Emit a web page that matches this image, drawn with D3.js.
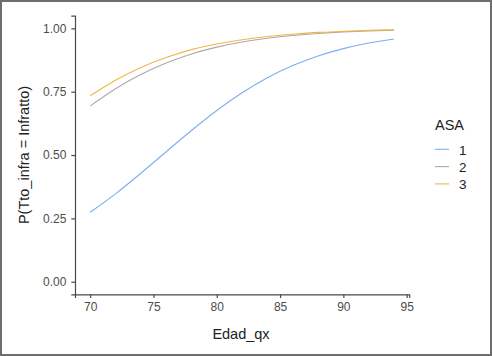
<!DOCTYPE html>
<html><head><meta charset="utf-8">
<script src="https://cdn.jsdelivr.net/npm/d3@7"></script>
<style>body{margin:0;background:#fff}svg{display:block}</style>
</head><body><svg id="c" width="492" height="356"></svg>
<script>
const ages = [70,72,74,76,78,80,82,84,86,88,90,92,94];
const asa1 = [0.274,0.347,0.428,0.513,0.597,0.676,0.746,0.805,0.853,0.891,0.920,0.942,0.958];
const asa2 = [0.694,0.762,0.818,0.863,0.899,0.926,0.946,0.961,0.972,0.980,0.986,0.990,0.993];
const asa3 = [0.734,0.795,0.846,0.885,0.916,0.938,0.955,0.968,0.977,0.984,0.988,0.992,0.994];
const groups = ["1","2","3"];
const seriesVals = [asa1, asa2, asa3];
const colors = ["#7eaef0","#aaaaaa","#f0b646"];
const xTicks = [70,75,80,85,90,95];
const yTicks = [0,0.25,0.5,0.75,1];

const svg = d3.select("#c");
svg.append("rect").attr("x",1).attr("y",1).attr("width",490).attr("height",354)
  .attr("fill","#fff").attr("stroke","#6e6e6e").attr("stroke-width",2);

const x = d3.scaleLinear().domain([68.8,95.2]).range([75,409.2]);
const y = d3.scaleLinear().domain([-0.05,1.05]).range([294.4,15.7]);
const font = "'Liberation Sans', Arial, sans-serif";

const xa = svg.append("g").attr("transform","translate(0,294.4)")
  .call(d3.axisBottom(x).tickValues(xTicks).tickSize(3.7).tickPadding(4).tickFormat(d3.format("d")));
const ya = svg.append("g").attr("transform","translate(75,0)")
  .call(d3.axisLeft(y).tickValues(yTicks).tickSize(3.7).tickPadding(5).tickFormat(d3.format(".2f")));
[xa,ya].forEach(a=>{
  a.select(".domain").attr("stroke","#4a4a4a").attr("stroke-width",1.2);
  a.selectAll(".tick line").attr("stroke","#4a4a4a").attr("stroke-width",1.2);
  a.selectAll(".tick text").attr("fill","#4d4d4d").style("font-family",font).style("font-size","12px");
});

const line = d3.line().x((d,i)=>x(ages[i])).y(d=>y(d)).curve(d3.curveNatural);
seriesVals.forEach((vals,k)=>{
  svg.append("path").attr("d",line(vals)).attr("fill","none")
    .attr("stroke",colors[k]).attr("stroke-width",1.1);
});

svg.append("text").attr("x",241).attr("y",339).attr("text-anchor","middle")
  .style("font-family",font).style("font-size","14.5px").attr("fill","#222").text("Edad_qx");
svg.append("text").attr("transform","translate(29,155) rotate(-90)").attr("text-anchor","middle")
  .style("font-family",font).style("font-size","14.5px").attr("fill","#222").text("P(Tto_infra = Infratto)");

const lg = svg.append("g");
lg.append("text").attr("x",435).attr("y",130).style("font-family",font).style("font-size","14.5px")
  .attr("fill","#222").text("ASA");
groups.forEach((g,k)=>{
  const yy = 149.3 + k*17.3;
  lg.append("line").attr("x1",435).attr("x2",449).attr("y1",yy).attr("y2",yy)
    .attr("stroke",colors[k]).attr("stroke-width",1.1);
  lg.append("text").attr("x",459).attr("y",yy+5.2).style("font-family",font).style("font-size","13.5px")
    .attr("fill","#222").text(g);
});
</script></body></html>
